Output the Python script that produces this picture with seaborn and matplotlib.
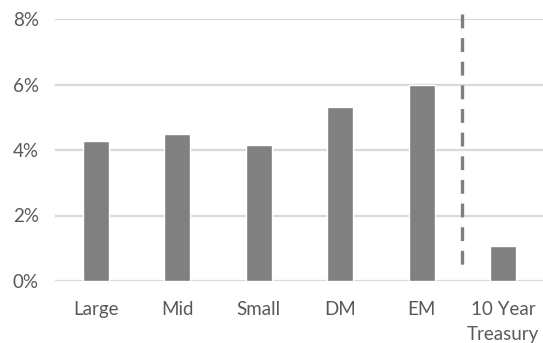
import matplotlib
matplotlib.use("Agg")
import matplotlib.pyplot as plt
import seaborn as sns
import pandas as pd

# Expected returns by asset class (%)
categories = ["Large", "Mid", "Small", "DM", "EM", "10 Year\nTreasury"]
returns = [4.27, 4.49, 4.14, 5.31, 6.00, 1.08]
y_ticks = [0, 2, 4, 6, 8]
y_tick_labels = ["0%", "2%", "4%", "6%", "8%"]

# vertical extent of the separator between equities and the treasury bar (%)
divider_top, divider_bottom = 8.14, 0.27

sns.set_theme(style="white")
plt.rcParams["font.family"] = ["Lato", "DejaVu Sans"]

TEXT = "#595959"
GRID = "#d9d9d9"
BAR = "#808080"

df = pd.DataFrame({"category": categories, "value": returns})

fig = plt.figure(figsize=(5.43, 3.43), dpi=100)
ax = fig.add_axes([55.3 / 543, 62 / 343, 488.4 / 543, 262 / 343])

sns.barplot(data=df, x="category", y="value", color=BAR, saturation=1,
            width=0.32, ax=ax, zorder=3)

ax.set_xlim(-0.5, len(categories) - 0.5)
ax.set_ylim(y_ticks[0], y_ticks[-1])
ax.set_yticks(y_ticks)
ax.set_yticklabels(y_tick_labels)

ax.yaxis.grid(True, color=GRID, linewidth=1.6, zorder=0)
ax.xaxis.grid(False)
ax.set_axisbelow(True)
for s in ax.spines.values():
    s.set_visible(False)

ax.set_xlabel("")
ax.set_ylabel("")
ax.tick_params(axis="both", length=0, labelsize=13.5, labelcolor=TEXT)
ax.tick_params(axis="y", pad=12)
ax.tick_params(axis="x", pad=14.5)
for lbl in ax.get_xticklabels():
    lbl.set_linespacing(1.55)
    lbl.set_verticalalignment("top")

# dashed separator between EM and the treasury bar
sep_x = len(categories) - 1.5
ax.plot([sep_x, sep_x], [divider_top, divider_bottom], color="#7f7f7f",
        linewidth=2.4, linestyle=(0, (4.15, 2.94)), clip_on=False, zorder=4)

fig.savefig("out.png", dpi=100, facecolor="white")
